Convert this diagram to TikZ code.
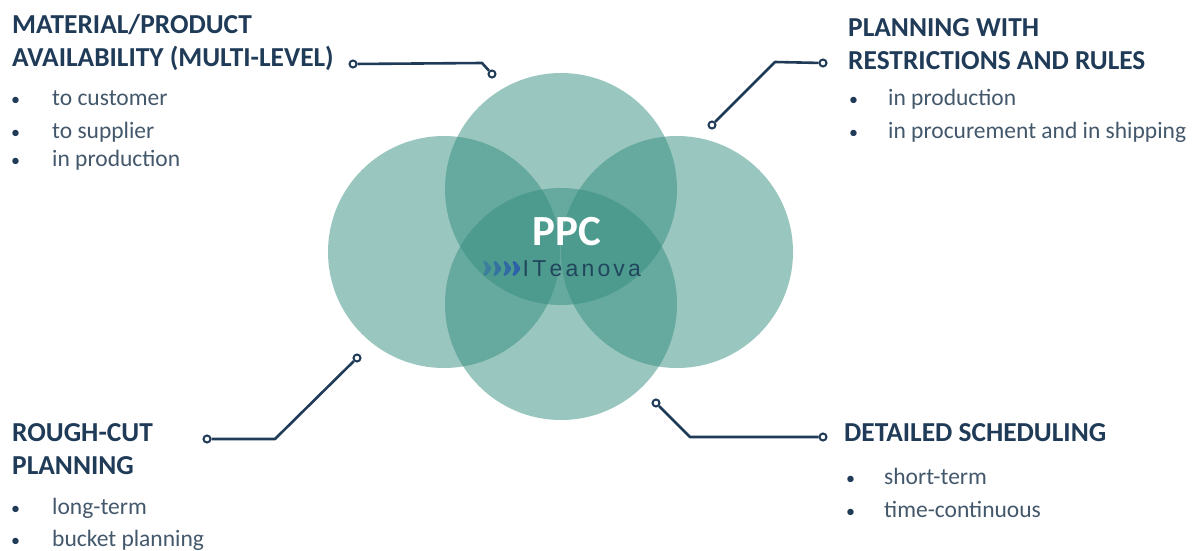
\documentclass[tikz,border=0pt]{standalone}
\usepackage{fontspec}
\setmainfont{Carlito}
\newfontfamily\logofont{Liberation Sans}
\definecolor{ink}{HTML}{1F3B57}
\definecolor{body}{HTML}{44586C}
\definecolor{teal}{HTML}{348E7F}
\definecolor{logoblue}{HTML}{2E62A8}
\tikzset{x=1pt,y=-1pt,
 disc/.style={circle,fill=teal,fill opacity=.5,minimum size=232pt,inner sep=0pt,text opacity=1},
 head/.style={anchor=west,align=left,font=\fontsize{27.4}{32.5}\selectfont\bfseries,text=ink,inner sep=0pt},
 item/.style={anchor=base west,font=\fontsize{23.5}{24}\selectfont,text=body,inner sep=0pt},
 dotb/.style={anchor=base west,font=\fontsize{18}{18}\selectfont,text=ink,inner sep=0pt},
 port/.style={circle,draw=ink,line width=2pt,fill=white,minimum size=7pt,inner sep=0pt},
 link/.style={draw=ink,line width=2.6pt,line join=round},
}
\begin{document}
\begin{tikzpicture}
\useasboundingbox (0,0) rectangle (1197,551);
\fill[white] (0,0) rectangle (1197,551);
% discs
\node[disc] (dt) at (561,189) {};
\node[disc] (dl) at (444,252) {};
\node[disc] (dr) at (677,252) {};
\node[disc] (db) at (561,304) {};
% centre
\node[font=\fontsize{43}{43}\selectfont\bfseries,text=white,inner sep=0pt] (ppc) at (567,232) {PPC};
\node[anchor=west,font=\logofont\fontsize{23}{23}\selectfont,text=ink!85!teal,inner sep=0pt] (logo) at (522.5,269) {I\hspace{3.2pt}T\hspace{3.2pt}e\hspace{3.2pt}a\hspace{3.2pt}n\hspace{3.2pt}o\hspace{3.2pt}v\hspace{3.2pt}a};
\foreach \x/\o in {483/.5,493/.7,503/.85,512/1}
  \fill[logoblue,opacity=\o,rounded corners=1.5pt] (\x,261) -- (\x+3,261) -- (\x+9,268.5) -- (\x+3,276) -- (\x,276) -- (\x+3,268.5) -- cycle;
% top-left
\node[head] (h1) at (12,42.5) {MATERIAL/PRODUCT\\AVAILABILITY (MULTI-LEVEL)};
\node[dotb] (b1a) at (11,106) {•};
\node[item] (t1a) at (52,106) {to customer};
\node[dotb] (b1b) at (11,138) {•};
\node[item] (t1b) at (52,138) {to supplier};
\node[dotb] (b1c) at (11,166) {•};
\node[item] (t1c) at (52,166) {in production};
\node[port] (p1a) at (353,64) {};
\node[port] (p1b) at (492,74) {};
\coordinate (k1) at (482,63);
\draw[link] (p1a) -- (k1) -- (p1b);
% top-right
\node[head] (h2) at (848,44) {PLANNING WITH\\RESTRICTIONS AND RULES};
\node[dotb] (b2a) at (849,106) {•};
\node[item] (t2a) at (888,106) {in production};
\node[dotb] (b2b) at (849,138) {•};
\node[item] (t2b) at (888,138) {in procurement and in shipping};
\node[port] (p2a) at (823,63) {};
\node[port] (p2b) at (712,125) {};
\coordinate (k2) at (775,62);
\draw[link] (p2a) -- (k2) -- (p2b);
% bottom-left
\node[head] (h3) at (12,449) {ROUGH-CUT\\PLANNING};
\node[dotb] (b3a) at (11,514) {•};
\node[item] (t3a) at (52,514) {long-term};
\node[dotb] (b3b) at (11,546) {•};
\node[item] (t3b) at (52,546) {bucket planning};
\node[port] (p3a) at (207,439) {};
\node[port] (p3b) at (357,358) {};
\coordinate (k3) at (275,439);
\draw[link] (p3a) -- (k3) -- (p3b);
% bottom-right
\node[head] (h4) at (844,433) {DETAILED SCHEDULING};
\node[dotb] (b4a) at (846,484) {•};
\node[item] (t4a) at (884,484) {short-term};
\node[dotb] (b4b) at (846,517) {•};
\node[item] (t4b) at (884,517) {time-continuous};
\node[port] (p4a) at (823,437) {};
\node[port] (p4b) at (656,403) {};
\coordinate (k4) at (690,437);
\draw[link] (p4a) -- (k4) -- (p4b);
\end{tikzpicture}
\end{document}
